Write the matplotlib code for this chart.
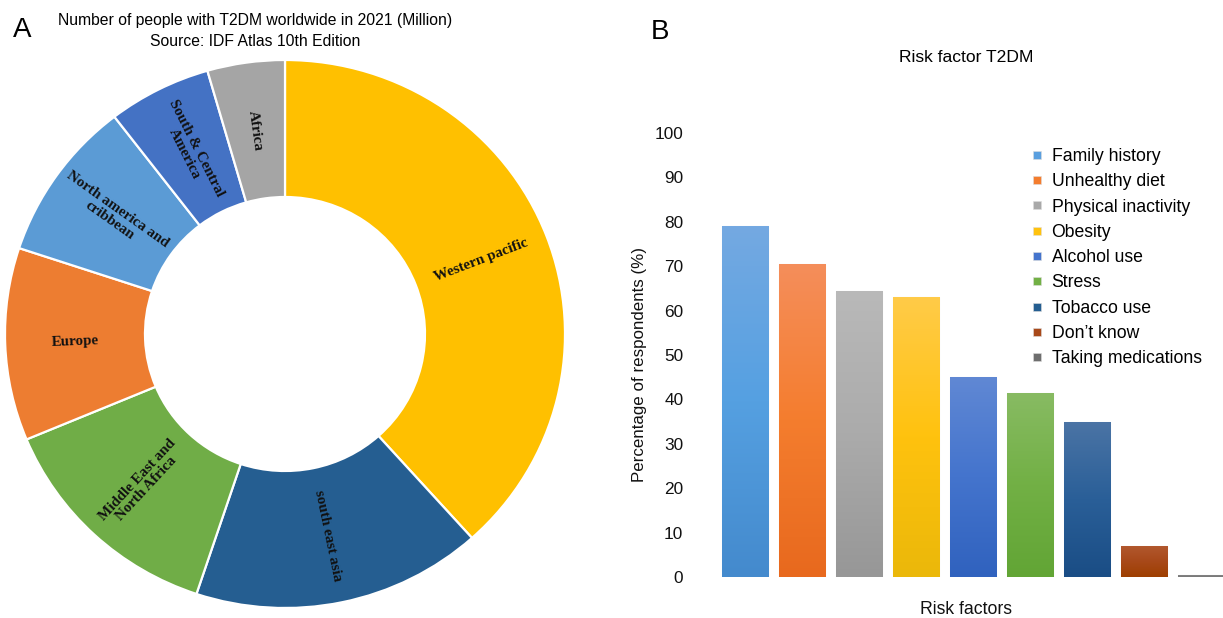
import numpy as np
import matplotlib
matplotlib.use("Agg")
import matplotlib.pyplot as plt
from matplotlib.colors import to_rgb
from matplotlib.lines import Line2D

# ---- Panel A: people with T2DM by IDF region, 2021 (millions) ----
regions = ["Western pacific", "south east asia", "Middle East and\nNorth Africa",
           "Europe", "North america and\ncribbean", "South & Central\nAmerica", "Africa"]
region_millions = [206, 90, 73, 61, 51, 32, 24]
region_colors = ["#FFC000", "#255E91", "#70AD47", "#ED7D31", "#5B9BD5", "#4472C4", "#A5A5A5"]

# ---- Panel B: perceived risk factors for T2DM ----
risk_factors = ["Family history", "Unhealthy diet", "Physical inactivity", "Obesity",
                "Alcohol use", "Stress", "Tobacco use", "Don\u2019t know", "Taking medications"]
respondents_pct = [79, 70.5, 64.5, 63, 45, 41.5, 35, 7, 0.5]
y_ticks = [0, 10, 20, 30, 40, 50, 60, 70, 80, 90, 100]

bar_top = ["#74A9E2", "#F58E5B", "#B9B9B9", "#FFCB48", "#6088D4", "#88BB63", "#4B74A5", "#B2592F", "#8A8A8A"]
bar_mid = ["#55A0E1", "#F47D2E", "#ABABAB", "#FFC20E", "#4474CD", "#72B045", "#2A5F98", "#A8491A", "#808080"]
bar_bot = ["#448ACD", "#E8691E", "#979797", "#EBB80A", "#3062BE", "#62A535", "#1A4D85", "#9E3F00", "#777777"]
legend_colors = ["#5A9FDF", "#F47D2E", "#A9A9A9", "#FFC20E", "#4474CD", "#72B045", "#255E91", "#A8491A", "#6E6E6E"]

SANS = "Liberation Sans"
SERIF = "Liberation Serif"

W, H = 1223, 618
fig = plt.figure(figsize=(W / 100, H / 100), dpi=100)
fig.patch.set_facecolor("white")


def fx(px):
    return px / W


def fy(py):
    return 1 - py / H


# ---------------- Donut ----------------
cx, cy, rx, ry = 285, 334, 280, 274
ax1 = fig.add_axes([fx(cx - rx), fy(cy + ry), 2 * rx / W, 2 * ry / H])
wedges, _ = ax1.pie(region_millions, colors=region_colors, startangle=90, counterclock=False,
                    radius=1.0, wedgeprops=dict(width=0.5, edgecolor="white", linewidth=1.6))
ax1.set_aspect("auto")
ax1.set_xlim(-1, 1)
ax1.set_ylim(-1, 1)
ax1.axis("off")

for w, name in zip(wedges, regions):
    mid = 0.5 * (w.theta1 + w.theta2)
    mid = (mid + 180) % 360 - 180
    rot = mid + 180 if abs(mid) > 90 else mid
    r = 0.75
    ax1.text(r * np.cos(np.radians(mid)), r * np.sin(np.radians(mid)), name,
             rotation=rot, rotation_mode="anchor", ha="center", va="center",
             family=SERIF, fontweight="bold", fontsize=10.8, color="#111111",
             linespacing=1.0)

fig.text(fx(255), fy(20), "Number of people with T2DM worldwide in 2021 (Million)",
         ha="center", va="center", family=SANS, fontsize=11.3)
fig.text(fx(255), fy(42), "Source: IDF Atlas 10th Edition",
         ha="center", va="center", family=SANS, fontsize=11.3)
fig.text(fx(22), fy(30), "A", ha="center", va="center", family=SANS, fontsize=20)

# ---------------- Bar chart ----------------
x0_px, spacing = 745, 57.0
ax_left, ax_right, ax_bot, ax_top = 700, 1223, 577, 133
ax2 = fig.add_axes([fx(ax_left), fy(ax_bot), (ax_right - ax_left) / W, (ax_bot - ax_top) / H])
xs = np.arange(len(risk_factors))
bar_w = 0.81
bars = ax2.bar(xs, respondents_pct, width=bar_w, color=bar_mid, edgecolor="#E4E4E4",
               linewidth=0.8, zorder=2)

# vertical gradient fill for each bar, clipped to the bar rectangle
for b, top, mid, bot in zip(bars, bar_top, bar_mid, bar_bot):
    h = b.get_height()
    t = np.linspace(0, 1, 200)[:, None]
    c_top, c_mid, c_bot = (np.array(to_rgb(c)) for c in (top, mid, bot))
    grad = np.where(t < 0.5, c_top + (c_mid - c_top) * (t / 0.5),
                    c_mid + (c_bot - c_mid) * ((t - 0.5) / 0.5))
    img = ax2.imshow(grad.reshape(200, 1, 3),
                     extent=(b.get_x(), b.get_x() + b.get_width(), 0, h),
                     aspect="auto", origin="upper", zorder=3, interpolation="bilinear")
    img.set_clip_path(b)

ax2.set_xlim((ax_left - x0_px) / spacing, (ax_right - x0_px) / spacing)
ax2.set_ylim(0, 100)
ax2.set_yticks(y_ticks)
ax2.set_yticklabels([str(v) for v in y_ticks], family=SANS, fontsize=12.4, color="#111111")
ax2.tick_params(axis="y", length=0, pad=12)
ax2.set_xticks([])
for s in ax2.spines.values():
    s.set_visible(False)
ax2.set_facecolor("none")

ax2.set_ylabel("Percentage of respondents (%)", family=SANS, fontsize=12.2, color="#111111")
ax2.yaxis.set_label_coords((647 - ax_left) / (ax_right - ax_left), (ax_bot - 364) / (ax_bot - ax_top))
ax2.set_xlabel("Risk factors", family=SANS, fontsize=12.7, color="#111111")
ax2.xaxis.set_label_coords((966 - ax_left) / (ax_right - ax_left), (ax_bot - 601) / (ax_bot - ax_top))

fig.text(fx(966), fy(58), "Risk factor T2DM", ha="center", va="center", family=SANS, fontsize=12.6)
fig.text(fx(660), fy(32), "B", ha="center", va="center", family=SANS, fontsize=20)

handles = [Line2D([], [], marker="s", linestyle="none", markersize=5.5,
                  markerfacecolor=c, markeredgecolor="#DDDDDD", markeredgewidth=0.4)
           for c in legend_colors]
fig.legend(handles, risk_factors, loc="upper left", bbox_to_anchor=(fx(1033), fy(148)),
           frameon=False, prop=dict(family=SANS, size=12.7), handlelength=0.5,
           handletextpad=0.55, labelspacing=0.47, borderpad=0, borderaxespad=0)

fig.savefig("out.png", dpi=100, facecolor="white")
